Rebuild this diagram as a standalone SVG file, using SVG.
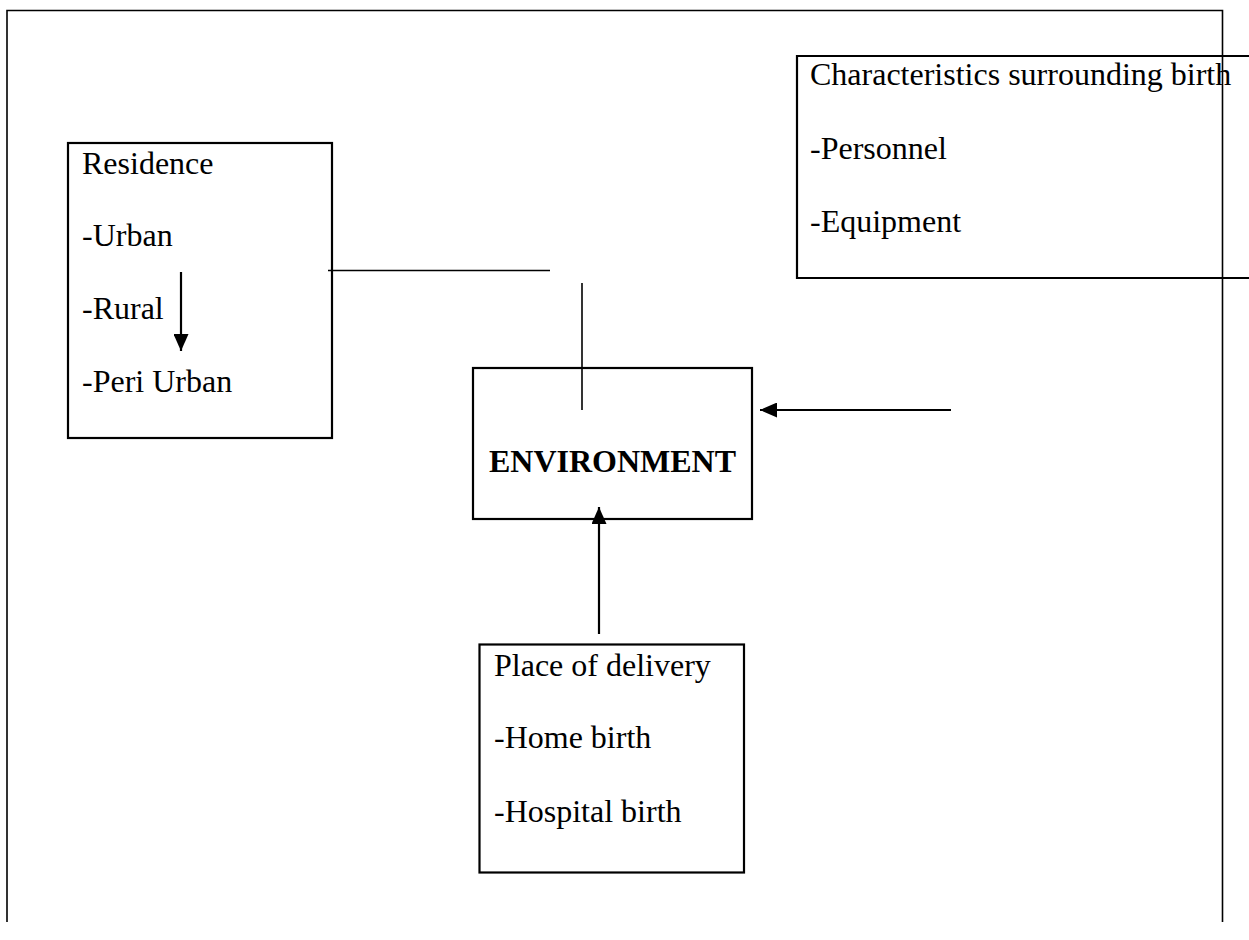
<svg xmlns="http://www.w3.org/2000/svg" width="1249" height="940" viewBox="0 0 1249 940">
<style>
.box{fill:none;stroke:#000;stroke-width:2.2}
.ln{fill:none;stroke:#000;stroke-width:1.6}
.ar{fill:none;stroke:#000;stroke-width:2.2}
.t{font-family:"Liberation Serif","Times New Roman",serif;font-size:32px;fill:#000}
.b{font-weight:bold}
</style>
<defs>
<marker id="ahb" markerWidth="17" markerHeight="15" refX="17" refY="7.5" orient="auto" markerUnits="userSpaceOnUse" viewBox="0 0 17 15">
<path d="M0,0 L17,7.5 L0,15 Z" fill="#000"/>
</marker>
</defs>
<g id="frame">
<path class="ln" d="M7,922 V10.5 H1222.5 V922"/>
</g>
<g id="residence">
<rect class="box" x="68" y="143" width="264" height="295"/>
<text class="t" x="82" y="173.5">Residence</text>
<text class="t" x="82" y="246">-Urban</text>
<text class="t" x="82" y="319">-Rural</text>
<text class="t" x="82" y="392">-Peri Urban</text>
</g>
<g id="characteristics">
<path class="box" d="M1249,56 H797 V278 H1249"/>
<text class="t" x="810" y="84.5">Characteristics surrounding birth</text>
<text class="t" x="810" y="159">-Personnel</text>
<text class="t" x="810" y="232">-Equipment</text>
</g>
<g id="environment">
<rect class="box" x="473" y="368" width="279" height="151"/>
<text class="t b" x="612.5" y="472" text-anchor="middle">ENVIRONMENT</text>
</g>
<g id="place">
<rect class="box" x="479.5" y="644.5" width="264.5" height="228"/>
<text class="t" x="494" y="675.5">Place of delivery</text>
<text class="t" x="494" y="748">-Home birth</text>
<text class="t" x="494" y="821.5">-Hospital birth</text>
</g>
<g id="connectors">
<line class="ar" x1="181" y1="272" x2="181" y2="351" marker-end="url(#ahb)"/>
<line class="ln" x1="328" y1="270.5" x2="550" y2="270.5"/>
<line class="ln" x1="582" y1="283" x2="582" y2="410"/>
<line class="ar" x1="951" y1="410" x2="760" y2="410" marker-end="url(#ahb)"/>
<line class="ar" x1="599" y1="634" x2="599" y2="507" marker-end="url(#ahb)"/>
</g>
</svg>
